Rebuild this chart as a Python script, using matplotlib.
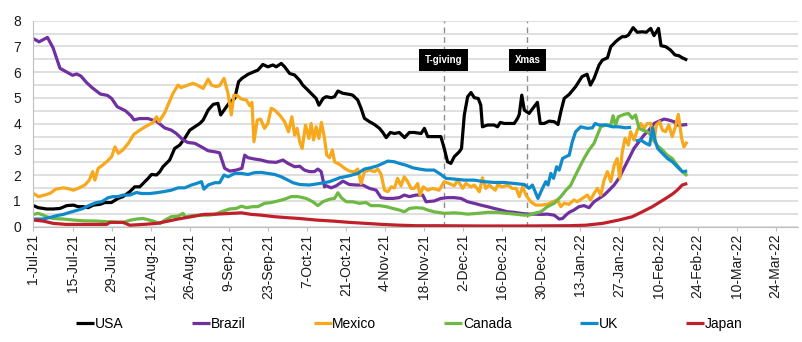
import numpy as np
import pandas as pd
import matplotlib
matplotlib.use('Agg')
import matplotlib.pyplot as plt
import matplotlib.dates as mdates

plt.rcParams['font.family'] = ['Liberation Sans', 'DejaVu Sans']

start = pd.Timestamp('2021-07-01')

# days after 1-Jul-21
usa_days = [0, 1.7, 4.7, 7.1, 9.5, 11.9, 14.3, 16, 17.8, 19.6, 21.4, 23.8, 25.6, 27.9, 30.3, 32.1, 34.5,
            36.3, 38.1, 39.3, 41.1, 42.3, 44.1, 45.3, 46.4, 48.8, 50.6, 52.4, 54.2, 56, 57.8, 59.6, 60.8,
            62.6, 64.4, 66.1, 67.1, 68.5, 70.3, 72.1, 73.5, 74.7, 76.9, 78.6, 80.4, 82.2, 84, 85.8, 87,
            88.8, 90, 91.8, 93.6, 95.4, 96.5, 98.3, 100.1, 101.3, 102.3, 103.8, 104.9, 106.7, 107.9, 109.1,
            110.9, 113.2, 114.4, 116.2, 117.4, 118.6, 120.4, 122.2, 124, 125.2, 126.4, 127.9, 129.4, 131.1,
            133, 134.7, 136.5, 138.9, 140.1, 141.3, 143.6, 146, 147.2, 148.4, 149.6, 150.8, 152.6, 153.4,
            154.4, 155.6, 156.8, 158, 159.4, 160.3, 160.9, 162.7, 165.1, 166.3, 167.3, 168.7, 170.5, 172.3,
            173.5, 174.1, 175, 175.9, 177.6, 179.4, 180.6, 181.6, 183, 184.8, 186.6, 188, 189, 190.2, 192,
            194.3, 196.6, 198.4, 199.6, 200.9, 202.7, 203.9, 205.7, 206.9, 208.6, 209.8, 211, 212.2, 213.2,
            214.9, 216.4, 218.2, 219.6, 221.2, 222.4, 224, 224.9, 226.6, 228.3, 229.9, 231.3, 232.5, 234.3]
usa = [0.82, 0.74, 0.69, 0.69, 0.71, 0.82, 0.84, 0.78, 0.78, 0.74, 0.84, 0.87, 0.94, 0.94, 1.1, 1.17, 1.36,
       1.55, 1.55, 1.68, 1.88, 2.03, 2.01, 2.14, 2.33, 2.59, 3.04, 3.17, 3.43, 3.75, 3.88, 4.01, 4.14,
       4.53, 4.75, 4.79, 4.34, 4.56, 4.83, 4.98, 5.63, 5.76, 5.92, 6.0, 6.08, 6.3, 6.21, 6.28, 6.21,
       6.34, 6.21, 5.95, 5.89, 5.68, 5.5, 5.31, 5.11, 4.98, 4.72, 4.98, 5.05, 5.01, 5.05, 5.27,
       5.18, 5.14, 5.11, 4.92, 4.6, 4.21, 4.08, 3.97, 3.82, 3.66, 3.46, 3.66, 3.62, 3.66,
       3.46, 3.66, 3.66, 3.62, 3.82, 3.5, 3.5, 3.5, 3.04, 2.52, 2.46, 2.72, 2.91, 3.04,
       4.34, 5.05, 5.21, 5.01, 4.98, 4.72, 3.88, 3.95, 3.95, 3.88, 4.05, 4.01, 4.01, 4.01,
       4.21, 4.36, 5.11, 4.53, 4.4, 4.66, 4.83, 4.01, 4.01, 4.1, 4.08, 3.97, 4.47, 4.98, 5.14,
       5.44, 5.83, 5.92, 5.5, 5.76, 6.28, 6.47, 6.56, 6.99, 7.18, 7.29, 7.38, 7.38, 7.44,
       7.73, 7.55, 7.57, 7.55, 7.7, 7.42, 7.7, 7.03, 6.99, 6.86, 6.67, 6.64, 6.56, 6.47]

brazil_days = [0, 2, 5, 7, 9.5, 12, 14, 15.5, 17, 19, 21, 24, 26.5, 28, 30, 33, 35, 36, 38, 41, 44, 47,
               49.4, 51.2, 53.6, 55.4, 57.8, 60.2, 62.6, 65, 66.7, 68.5, 70.3, 72.7, 74.7, 75.7, 76.9,
               79.2, 81.6, 84, 87, 89.4, 91.2, 93.6, 95.4, 97.1, 98.9, 100.7, 101.9, 103.1, 104.3, 105,
               106.7, 108.5, 110.9, 113.2, 115.6, 118, 120.4, 122.8, 124.6, 126.4, 128.8, 131.1, 132.9,
               134.7, 137.1, 139.5, 140.7, 143.6, 146, 148.4, 150.8, 153.2, 155.6, 157.9, 160.3, 162.7,
               165.1, 167.5, 169.9, 172.3, 174.7, 177.1, 179.4, 181.8, 184.2, 186.6, 188.4, 189.6, 190.8,
               192, 193.7, 195.5, 197.3, 199.1, 200.9, 202.7, 204.5, 206.3, 208.1, 209.8, 211.6, 213.4,
               215.2, 217, 218.8, 220.6, 222.4, 224.2, 226, 227.7, 229.5, 230.7, 232.5, 234.3]
brazil = [7.3, 7.18, 7.35, 6.95, 6.15, 6.0, 5.88, 5.93, 5.85, 5.6, 5.4, 5.15, 5.1, 4.98, 4.66, 4.5, 4.3,
          4.15, 4.2, 4.2, 4.1, 3.84, 3.75, 3.62, 3.37, 3.27, 3.24, 3.1, 2.95, 2.91, 2.87, 2.27, 2.16, 2.2,
          2.27, 2.78, 2.68, 2.63, 2.59, 2.52, 2.5, 2.59, 2.46, 2.33, 2.35, 2.2, 2.14, 2.14, 2.24, 2.14,
          1.55, 1.59, 1.51, 1.59, 1.77, 1.64, 1.62, 1.62, 1.49, 1.42, 1.13, 1.1, 1.1, 1.13, 1.23, 1.17,
          1.23, 1.23, 0.97, 1.0, 1.1, 1.13, 1.13, 1.1, 0.97, 0.91, 0.84, 0.78, 0.71, 0.65, 0.58, 0.56,
          0.52, 0.49, 0.49, 0.48, 0.49, 0.45, 0.3, 0.32, 0.45, 0.56, 0.65, 0.78, 0.82, 0.74, 0.97, 1.1,
          1.23, 1.42, 1.62, 1.88, 2.27, 2.65, 3.04, 3.3, 3.56, 3.75, 4.01, 4.1, 4.18, 4.14, 4.08, 3.95,
          3.95, 3.97]

mexico_days = [0, 1.8, 4, 6, 8, 10.7, 12, 14.3, 16, 18.4, 20, 21.2, 22, 23.2, 24, 26.2, 28, 29.2, 30.4,
               32, 34, 36, 38.1, 40, 42.9, 44.1, 45, 47, 48.2, 50, 51.8, 52.9, 54.8, 57.2, 59, 60.8, 62.6,
               63.8, 65.5, 66.7, 68.3, 69.7, 70.9, 71.8, 73, 74.5, 76.3, 77.5, 78.3, 79, 80.2, 81.4, 82.8,
               84, 85.2, 86.4, 88.2, 90, 91.4, 92.6, 93.6, 94.5, 95.4, 96.3, 97.5, 98.7, 99.5, 100.4,
               101.3, 102.3, 103.2, 104.3, 105.1, 106.1, 107.1, 107.9, 109.7, 111.5, 113.2, 115.1, 116.2,
               117.4, 118.6, 120.4, 122.2, 123.4, 124.6, 125.8, 127, 128.2, 129.4, 130.5, 131.7, 132.9,
               134.1, 135.3, 136.5, 137.7, 138.5, 139.7, 141.3, 143, 145.4, 147.2, 149, 150.8, 152, 153.8,
               155, 156.8, 158, 159.8, 160.9, 162.1, 163.3, 165.5, 166.3, 168.1, 169.9, 171.6, 173, 174.1,
               175.3, 176.5, 178.2, 180, 181.8, 184.2, 186, 187.8, 189, 190.2, 191.9, 193.7, 194.9, 196.7,
               198.5, 199.6, 200.9, 202.1, 203.3, 204.5, 205.7, 206.9, 208.1, 209.2, 210.1, 211, 212,
               213.2, 214, 215.2, 216.4, 217.6, 218.8, 220, 221.2, 222.4, 223.2, 224.4, 225.4, 226.5,
               227.7, 228.9, 229.9, 231.1, 232.3, 233.1, 234.3]
mexico = [1.29, 1.17, 1.23, 1.3, 1.46, 1.51, 1.49, 1.42, 1.49, 1.62, 1.81, 2.14, 1.81, 2.27, 2.33, 2.52,
          2.72, 3.1, 2.85, 2.98, 3.24, 3.59, 3.75, 3.88, 4.05, 4.27, 4.08, 4.42, 4.72, 5.18, 5.5, 5.4, 5.48,
          5.57, 5.48, 5.37, 5.73, 5.5, 5.44, 5.48, 5.76, 5.18, 4.34, 5.11, 5.09, 4.96, 4.92, 4.7, 4.83, 3.3,
          4.14, 4.18, 3.82, 4.01, 4.6, 4.53, 4.34, 4.08, 3.69, 4.27, 3.56, 3.82, 3.3, 3.04, 3.95, 3.43,
          4.01, 3.37, 3.88, 3.43, 4.05, 3.43, 2.78, 2.68, 2.98, 2.52, 2.42, 2.27, 2.16, 2.14, 2.24, 1.68,
          2.14, 2.2, 2.14, 2.24, 2.03, 1.42, 1.36, 1.55, 1.51, 1.88, 1.59, 1.94, 1.75, 1.49, 1.49, 1.68,
          1.23, 1.55, 1.42, 1.49, 1.42, 1.75, 1.68, 1.59, 1.81, 1.49, 1.68, 1.55, 1.62, 1.36, 1.9, 1.49,
          1.62, 1.42, 1.62, 1.55, 1.62, 1.49, 1.49, 1.17, 1.55, 1.23, 0.97, 0.84, 0.84, 0.87, 0.97, 1.04,
          0.78, 0.91, 0.87, 1.04, 0.97, 1.1, 1.23, 1.04, 1.29, 1.49, 1.23, 1.81, 2.14, 1.75, 2.39, 2.65,
          1.88, 2.91, 3.43, 3.17, 3.69, 3.37, 3.75, 4.01, 3.82, 4.01, 4.01, 3.3, 3.95, 4.08, 3.75, 3.69,
          3.95, 3.5, 3.82, 4.36, 3.43, 3.1, 3.3]

canada_days = [0, 1.7, 3.5, 4.7, 7.1, 10.7, 14.3, 17.8, 22.6, 27.4, 32.1, 34.5, 37, 39.3, 42.9, 45.3, 47,
               49.4, 51.8, 53.6, 54.4, 56.6, 60.2, 62.6, 65, 67.3, 70.3, 72.7, 74.5, 76.3, 78.6, 80.4, 82.8,
               85.2, 87.6, 90, 92.4, 94.8, 97.7, 100.1, 101.9, 103.7, 106.1, 107.9, 109.1, 110.3, 112.1,
               114.4, 116.8, 119.2, 120.9, 123.9, 126.4, 128.8, 131.1, 132.9, 134.7, 137.1, 139.5, 141.3,
               143.6, 147.2, 150.8, 153.2, 155.6, 159.2, 162.7, 166.3, 169.9, 173.5, 175.9, 177.6, 179.4,
               181.8, 184.2, 186.6, 189, 190.8, 192.5, 193.7, 195.5, 197.3, 199.1, 200.9, 202.1, 203.3,
               205.1, 206.9, 207.7, 208.6, 209.6, 211.6, 213.2, 214.6, 215.8, 217, 218.4, 220, 221.2,
               222.4, 223.6, 225.4, 227.1, 228.9, 230.7, 232.5, 234.3]
canada = [0.48, 0.52, 0.45, 0.39, 0.32, 0.3, 0.26, 0.23, 0.22, 0.19, 0.17, 0.25, 0.3, 0.32, 0.22, 0.12,
          0.25, 0.39, 0.41, 0.52, 0.38, 0.43, 0.45, 0.45, 0.48, 0.58, 0.69, 0.71, 0.8, 0.74, 0.78, 0.78,
          0.91, 0.94, 1.0, 1.07, 1.17, 1.17, 1.1, 0.97, 0.82, 0.97, 1.07, 1.1, 1.32, 1.13, 0.97, 0.97,
          0.91, 0.94, 0.82, 0.82, 0.78, 0.71, 0.65, 0.58, 0.71, 0.74, 0.72, 0.65, 0.58, 0.52, 0.54,
          0.52, 0.49, 0.52, 0.56, 0.56, 0.52, 0.48, 0.45, 0.45, 0.52, 0.58, 0.78, 0.91, 1.17, 1.42, 1.6,
          1.88, 2.27, 2.65, 2.98, 3.24, 3.56, 3.88, 3.95, 3.95, 4.31, 3.95, 4.27, 4.36, 4.4, 4.21, 4.34,
          3.82, 3.75, 3.69, 3.56, 3.37, 3.15, 2.98, 2.78, 2.65, 2.39, 2.14, 1.98]

# the UK line has a break in early Feb (nan)
uk_days = [0, 3.5, 5.9, 8.3, 10.7, 13.1, 16, 17.8, 20.2, 22.6, 24.4, 26.8, 28.6, 30.3, 32.1, 34.5, 36.9,
           38.7, 41.7, 44.1, 46.5, 49.4, 51.8, 54.2, 56.6, 58.4, 60.2, 61.1, 62.6, 65, 66.7, 68.3, 69.7,
           72.1, 74.5, 76.9, 79.2, 81.6, 84, 86.4, 88.8, 91.2, 93, 95.4, 98.9, 102.5, 106.1, 109.7, 113.2,
           116.2, 118.6, 120.9, 123.4, 125.2, 127, 129.4, 131.1, 133.5, 135.9, 138.3, 140.7, 143.6, 146,
           147.8, 150.8, 154.4, 157.9, 161.5, 165.1, 168.7, 172.3, 175.9, 177.6, 178.8, 180.8, 182.4,
           183.6, 184.4, 185.4, 186.4, 187.5, 188.4, 189.6, 190.8, 192, 193.1, 194.3, 196.1, 198.5, 200.3,
           201.3, 202.7, 205.1, 207.5, 209.8, 212.2, 214.2, 215, 215.8, 217.6, 219.4, 220.8, 221.9, 222.9,
           223.7, 225.4, 227.2, 229, 230.7, 232.5, 234.3]
uk = [0.3, 0.3, 0.36, 0.43, 0.48, 0.56, 0.65, 0.71, 0.84, 0.94, 0.97, 1.13, 1.17, 1.17, 1.23, 1.23, 1.33,
      1.29, 1.29, 1.32, 1.36, 1.42, 1.51, 1.51, 1.62, 1.68, 1.75, 1.46, 1.62, 1.71, 1.71, 2.01, 1.94,
      2.07, 2.07, 2.03, 2.1, 2.11, 2.07, 2.03, 1.94, 1.81, 1.71, 1.64, 1.62, 1.68, 1.75, 1.9, 1.98,
      2.07, 2.24, 2.29, 2.37, 2.46, 2.55, 2.52, 2.46, 2.39, 2.29, 2.24, 2.2, 2.2, 2.03,
      1.88, 1.85, 1.81, 1.81, 1.75, 1.72, 1.72, 1.68, 1.64, 1.49, 1.62, 1.1, 1.49,
      1.75, 1.62, 2.07, 1.88, 2.33, 2.2, 2.65, 2.72, 2.78, 3.3, 3.69, 3.88, 3.82, 3.84,
      4.01, 3.95, 3.95, 3.88, 3.88, 3.84, 3.86, np.nan, 3.33, 3.37, 3.24, 3.17, 3.84, 3.3,
      3.04, 2.85, 2.65, 2.52, 2.33, 2.14, 2.16]

japan_days = [0, 3.5, 7.1, 11.9, 16.6, 22.6, 26.2, 27.4, 32.1, 34.5, 39.3, 44.1, 47, 51.8, 56.6, 61.1,
              65.8, 70.9, 74.5, 78.1, 81.6, 86.4, 91.2, 95.4, 101.3, 107.3, 113.2, 119.2, 125.2, 131.1,
              137.1, 143.6, 160, 176, 192, 197.9, 203.9, 209.8, 214.6, 218.2, 221.8, 224.2, 226.6, 229,
              230.7, 232.5, 234.3]
japan = [0.26, 0.22, 0.13, 0.09, 0.09, 0.09, 0.09, 0.17, 0.17, 0.06, 0.09, 0.13, 0.19, 0.3, 0.39, 0.48,
         0.49, 0.52, 0.54, 0.48, 0.45, 0.39, 0.35, 0.32, 0.26, 0.22, 0.17, 0.13, 0.09, 0.06, 0.04, 0.04,
         0.03, 0.03, 0.04, 0.06, 0.13, 0.26, 0.39, 0.58, 0.78, 0.94, 1.1, 1.27, 1.42, 1.62, 1.68]

series = [
    ('USA', usa_days, usa, '#000000'),
    ('Brazil', brazil_days, brazil, '#7030A0'),
    ('Mexico', mexico_days, mexico, '#F7A81B'),
    ('Canada', canada_days, canada, '#6DB944'),
    ('UK', uk_days, uk, '#0F8ACB'),
    ('Japan', japan_days, japan, '#C0202A'),
]

events = [('T-giving', pd.Timestamp('2021-11-25')), ('Xmas', pd.Timestamp('2021-12-25'))]

t0 = mdates.date2num(start.to_pydatetime())

fig = plt.figure(figsize=(8.03, 3.42), dpi=100)
ax = fig.add_axes([0.0417, 0.337, 0.9521, 0.6025])

for name, days, vals, col in series:
    ax.plot(t0 + np.asarray(days, dtype=float), vals, color=col, lw=2.3, label=name,
            solid_joinstyle='round', solid_capstyle='butt')

for label, d in events:
    xd = mdates.date2num(d.to_pydatetime())
    ax.axvline(xd, color='#8c8c8c', lw=1, ls=(0, (4, 3)), zorder=1)
    ax.text(xd, 6.48, label, ha='center', va='center', color='white', fontsize=7,
            fontweight='bold', zorder=5,
            bbox=dict(boxstyle='square,pad=0.6', fc='black', ec='none'))

ax.set_ylim(0, 8)
ax.set_yticks(range(0, 9))
ax.set_yticks(np.arange(0.5, 8, 1.0), minor=True)
ax.set_xlim(t0, mdates.date2num(pd.Timestamp('2022-04-01').to_pydatetime()))

ticks = pd.date_range('2021-07-01', '2022-03-24', freq='14D')
ax.set_xticks(mdates.date2num(ticks.to_pydatetime()))
ax.set_xticklabels([f"{t.day}-{t.strftime('%b')}-{t.strftime('%y')}" for t in ticks],
                   rotation=90, fontsize=10, color='#1a1a1a')
ax.tick_params(axis='y', which='both', length=0, labelsize=10, labelcolor='#1a1a1a', pad=9)
ax.tick_params(axis='x', length=3, color='#bfbfbf', pad=2)

ax.grid(axis='y', which='both', color='#d9d9d9', lw=1.2)
ax.set_axisbelow(True)
for s in ['top', 'right']:
    ax.spines[s].set_visible(False)
ax.spines['left'].set_color('#bfbfbf')
ax.spines['bottom'].set_color('#bfbfbf')

fig.legend(loc='center', bbox_to_anchor=(0.51, 0.053), ncol=6, frameon=False, fontsize=10,
           handlelength=1.3, handletextpad=0.05, columnspacing=4.9)

fig.savefig('out.png', dpi=100)
